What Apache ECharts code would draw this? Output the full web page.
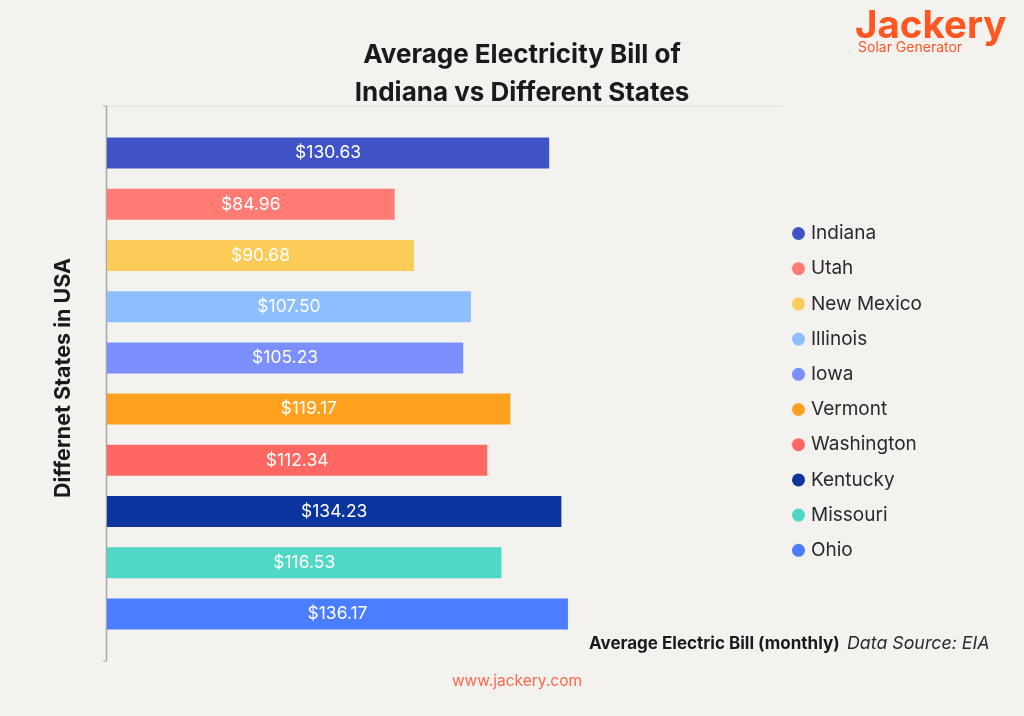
<!DOCTYPE html>
<html><head><meta charset="utf-8">
<script src="https://cdn.jsdelivr.net/npm/echarts@6/dist/echarts.min.js"></script>
<style>html,body{margin:0;padding:0;background:#F3F2EE;}#c{width:1024px;height:716px;}</style>
</head><body><div id="c"></div>
<script>
const states = ['Indiana','Utah','New Mexico','Illinois','Iowa','Vermont','Washington','Kentucky','Missouri','Ohio'];
const bills = [130.63, 84.96, 90.68, 107.50, 105.23, 119.17, 112.34, 134.23, 116.53, 136.17];
const colors = ['#4053C6','#FF7B74','#FDCB57','#8DBFFF','#7B8FFF','#FFA01F','#FF6862','#0A349E','#4FD8C6','#4A7DFF'];

const FONT = 'Inter, "Open Sans", sans-serif';
const chart = echarts.init(document.getElementById('c'));
const series = states.map((s, i) => ({
  name: s, type: 'bar', stack: 'all', barWidth: 31,
  itemStyle: { color: colors[i] },
  data: states.map((_, j) => j === i ? bills[i] : null),
  label: { show: true, position: 'inside', color: '#fff', fontSize: 17.5, fontFamily: FONT,
    formatter: p => '$' + p.value.toFixed(2) }
}));
chart.setOption({
  backgroundColor: '#F3F2EE',
  animation: false,
  title: {
    text: 'Average Electricity Bill of\nIndiana vs Different States',
    left: 517, top: 31, textAlign: 'center',
    textStyle: { fontFamily: FONT, fontSize: 26, fontWeight: 'bold', color: '#1a1a1a', lineHeight: 38 }
  },
  legend: {
    orient: 'vertical', left: 787, top: 219, itemGap: 16.2,
    icon: 'circle', itemWidth: 13, itemHeight: 13,
    textStyle: { fontFamily: FONT, fontSize: 19, color: '#2a2a2a', padding: [0,0,0,1] },
    data: states
  },
  grid: { left: 107, top: 127.5, width: 677, height: 512 },
  xAxis: { type: 'value', min: 0, max: 200, show: false },
  yAxis: {
    type: 'category', data: states, inverse: true,
    axisLine: { show: false }, axisTick: { show: false }, axisLabel: { show: false }
  },
  graphic: [
    { type: 'line', shape: { x1: 107, y1: 106, x2: 782, y2: 106 }, style: { stroke: '#DEDDD9', lineWidth: 1 } },
    { type: 'line', shape: { x1: 106.5, y1: 106, x2: 106.5, y2: 661 }, style: { stroke: '#A8A8A6', lineWidth: 1.5 } },
    { type: 'line', shape: { x1: 103, y1: 106, x2: 107, y2: 106 }, style: { stroke: '#A8A8A6', lineWidth: 1 } },
    { type: 'line', shape: { x1: 103, y1: 661, x2: 107, y2: 661 }, style: { stroke: '#A8A8A6', lineWidth: 1 } },
    { type: 'text', x: 64, y: 378, rotation: Math.PI / 2,
      style: { text: 'Differnet States in USA', fill: '#1a1a1a', font: 'bold 21.5px ' + FONT, align: 'center', verticalAlign: 'middle' } },
    { type: 'text', x: 589, y: 644,
      style: { text: 'Average Electric Bill (monthly)', fill: '#1a1a1a', font: 'bold 17px ' + FONT, verticalAlign: 'middle' } },
    { type: 'text', x: 847, y: 644,
      style: { text: 'Data Source: EIA', fill: '#2a2a2a', font: 'italic 17.8px ' + FONT, verticalAlign: 'middle' } },
    { type: 'text', x: 517, y: 681,
      style: { text: 'www.jackery.com', fill: '#FF6A4D', font: '15.5px ' + FONT, align: 'center', verticalAlign: 'middle' } },
    { type: 'text', x: 855, y: 26,
      style: { text: 'Jackery', fill: '#FF5722', font: 'bold 38.5px ' + FONT, verticalAlign: 'middle' } },
    { type: 'text', x: 858, y: 48,
      style: { text: 'Solar Generator', fill: '#FF5722', font: '14px ' + FONT, verticalAlign: 'middle' } }
  ],
  series: series
});
</script></body></html>
